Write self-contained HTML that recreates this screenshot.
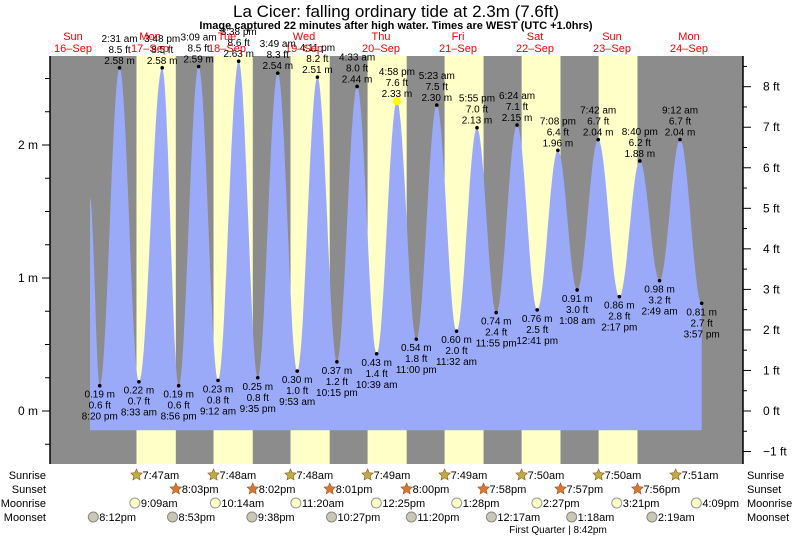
<!DOCTYPE html>
<html><head><meta charset="utf-8"><style>
body{margin:0;background:#fff;width:793px;height:538px;overflow:hidden}
svg text{font-family:"Liberation Sans",sans-serif}
</style></head><body>
<svg id="s" width="793" height="538" xmlns="http://www.w3.org/2000/svg"></svg>
<script>
const s=document.getElementById('s');
let h='';
const X0=34.5,PD=77,Y0=411,PM=133;
const X=(d,hr)=>X0+PD*(d+hr/24), Y=m=>Y0-m*PM;
h+='<rect x="50" y="56" width="693" height="408" fill="#8c8c8c"/>';
const sr=[7+47/60,7+48/60,7+48/60,7+49/60,7+49/60,7+50/60,7+50/60,7+51/60];
const ss=[20+3/60,20+2/60,20+1/60,20,19+58/60,19+57/60,19+56/60];
for(let i=0;i<7;i++){h+=`<rect x="${X(i+1,sr[i])}" y="56" width="${X(i+1,ss[i])-X(i+1,sr[i])}" height="408" fill="#ffffc8"/>`;}
const T=[[0,17.3,1.6],[0,20+20/60,.19],[1,2+31/60,2.58],[1,8+33/60,.22],[1,15+48/60,2.58],[1,20+56/60,.19],[2,3+9/60,2.59],[2,9+12/60,.23],[2,15+38/60,2.63],[2,21+35/60,.25],[3,3+49/60,2.54],[3,9+53/60,.30],[3,16+11/60,2.51],[3,22+15/60,.37],[4,4+33/60,2.44],[4,10+39/60,.43],[4,16+58/60,2.33],[4,23,.54],[5,5+23/60,2.30],[5,11+32/60,.60],[5,17+55/60,2.13],[5,23+55/60,.74],[6,6+24/60,2.15],[6,12+41/60,.76],[6,19+8/60,1.96],[7,1+8/60,.91],[7,7+42/60,2.04],[7,14+17/60,.86],[7,20+40/60,1.88],[8,2+49/60,.98],[8,9+12/60,2.04],[8,15+57/60,.81]];
let p=`M${X(T[0][0],T[0][1])},${Y(-0.145)} L${X(T[0][0],T[0][1])},${Y(T[0][2])}`;
for(let i=1;i<T.length;i++){const a=T[i-1],b=T[i];const xa=X(a[0],a[1]),xb=X(b[0],b[1]);
 for(let k=1;k<=20;k++){const f=k/20;const v=a[2]+(b[2]-a[2])*(1-Math.cos(Math.PI*f))/2;p+=` L${(xa+(xb-xa)*f).toFixed(1)},${Y(v).toFixed(1)}`;}}
const L=T[T.length-1];p+=` L${X(L[0],L[1])},${Y(-0.145)} Z`;
h+=`<path d="${p}" fill="#9aaaf8"/>`;
const fmt=hr=>{let H=Math.floor(hr+1e-6),M=Math.round((hr-H)*60);const ap=H>=12?'pm':'am';H=H%12||12;return H+':'+String(M).padStart(2,'0')+' '+ap;};
for(let i=1;i<T.length;i++){const t=T[i],x=X(t[0],t[1]),y=Y(t[2]);const hi=i%2==0;const ft=(t[2]/0.3048).toFixed(1);
 h+=`<circle cx="${x}" cy="${y}" r="${i==16?4:1.8}" fill="${i==16?'#ff0':'#000'}"/>`;
 if(hi){h+=`<text x="${x}" y="${y-26}" font-size="10" text-anchor="middle">${fmt(t[1])}</text><text x="${x}" y="${y-15}" font-size="10" text-anchor="middle">${ft} ft</text><text x="${x}" y="${y-4}" font-size="10" text-anchor="middle">${t[2].toFixed(2)} m</text>`;}
 else{h+=`<text x="${x}" y="${y+12}" font-size="10" text-anchor="middle">${t[2].toFixed(2)} m</text><text x="${x}" y="${y+23}" font-size="10" text-anchor="middle">${ft} ft</text><text x="${x}" y="${y+34}" font-size="10" text-anchor="middle">${fmt(t[1])}</text>`;}}
h+='<line x1="50" y1="56" x2="50" y2="464" stroke="#000" stroke-width="1.5"/><line x1="743" y1="56" x2="743" y2="464" stroke="#000" stroke-width="1.5"/>';
for(let m=-0.25;m<=2.6;m+=0.25){const y=Y(m);if(y<57||y>463)continue;const maj=Math.abs(m-Math.round(m))<.01;h+=`<line x1="${maj?42:45}" y1="${y}" x2="50" y2="${y}" stroke="#000"/>`;if(maj)h+=`<text x="38" y="${y+4}" font-size="12" text-anchor="end">${Math.round(m)} m</text>`;}
for(let f=-1.5;f<=8.6;f+=0.5){const y=Y0-f*0.3048*PM;if(y<57||y>463)continue;const maj=Math.abs(f-Math.round(f))<.01;h+=`<line x1="743" y1="${y}" x2="${maj?751:747}" y2="${y}" stroke="#000"/>`;if(maj)h+=`<text x="763" y="${y+4}" font-size="12">${Math.round(f)<0?'−1':Math.round(f)} ft</text>`;}
h+='<text x="396" y="17" font-size="17" text-anchor="middle">La Cicer: falling  ordinary tide at 2.3m (7.6ft)</text>';
h+='<text x="396" y="29" font-size="11" font-weight="bold" text-anchor="middle">Image captured 22 minutes after high water. Times are WEST (UTC +1.0hrs)</text>';
const dn=['Sun','Mon','Tue','Wed','Thu','Fri','Sat','Sun','Mon'];
for(let i=0;i<9;i++){const x=X(i,12);h+=`<text x="${x}" y="40" font-size="11" fill="#e00" text-anchor="middle">${dn[i]}</text><text x="${x}" y="52" font-size="11" fill="#e00" text-anchor="middle">${16+i}–Sep</text>`;}
['Sunrise','Sunset','Moonrise','Moonset'].forEach((t,i)=>{h+=`<text x="46" y="${479+i*14}" font-size="11" text-anchor="end">${t}</text><text x="747" y="${479+i*14}" font-size="11">${t}</text>`;});
const star=(x,y,c)=>{let q='';for(let k=0;k<10;k++){const r=k%2?2.8:6,a=-Math.PI/2+k*Math.PI/5;q+=(x+r*Math.cos(a)).toFixed(1)+','+(y+r*Math.sin(a)).toFixed(1)+' ';}return `<polygon points="${q}" fill="${c}" stroke="#a05020" stroke-width=".6"/>`;};
const srl=['7:47am','7:48am','7:48am','7:49am','7:49am','7:50am','7:50am','7:51am'];
for(let i=0;i<8;i++){const x=X(i+1,sr[i]);h+=star(x,475,'#b8b040')+`<text x="${x+6}" y="479" font-size="11">${srl[i]}</text>`;}
const ssl=['8:03pm','8:02pm','8:01pm','8:00pm','7:58pm','7:57pm','7:56pm'];
for(let i=0;i<7;i++){const x=X(i+1,ss[i]);h+=star(x,489,'#d87830')+`<text x="${x+6}" y="493" font-size="11">${ssl[i]}</text>`;}
const mr=[[1,9+9/60,'9:09am'],[2,10+14/60,'10:14am'],[3,11+20/60,'11:20am'],[4,12+25/60,'12:25pm'],[5,13+28/60,'1:28pm'],[6,14+27/60,'2:27pm'],[7,15+21/60,'3:21pm'],[8,16+9/60,'4:09pm']];
mr.forEach(m=>{const x=X(m[0],m[1])-6;h+=`<circle cx="${x}" cy="503" r="5" fill="#ffffc8" stroke="#999"/><text x="${x+6}" y="507" font-size="11">${m[2]}</text>`;});
const ms=[[0,20+12/60,'8:12pm'],[1,20+53/60,'8:53pm'],[2,21+38/60,'9:38pm'],[3,22+27/60,'10:27pm'],[4,23+20/60,'11:20pm'],[6,0+17/60,'12:17am'],[7,1+18/60,'1:18am'],[8,2+19/60,'2:19am']];
ms.forEach(m=>{const x=X(m[0],m[1])-6;h+=`<circle cx="${x}" cy="517" r="5" fill="#c8c8b4" stroke="#888"/><text x="${x+6}" y="521" font-size="11">${m[2]}</text>`;});
h+='<text x="558" y="533" font-size="10" text-anchor="middle">First Quarter | 8:42pm</text>';
s.innerHTML=h;
</script>
</body></html>
